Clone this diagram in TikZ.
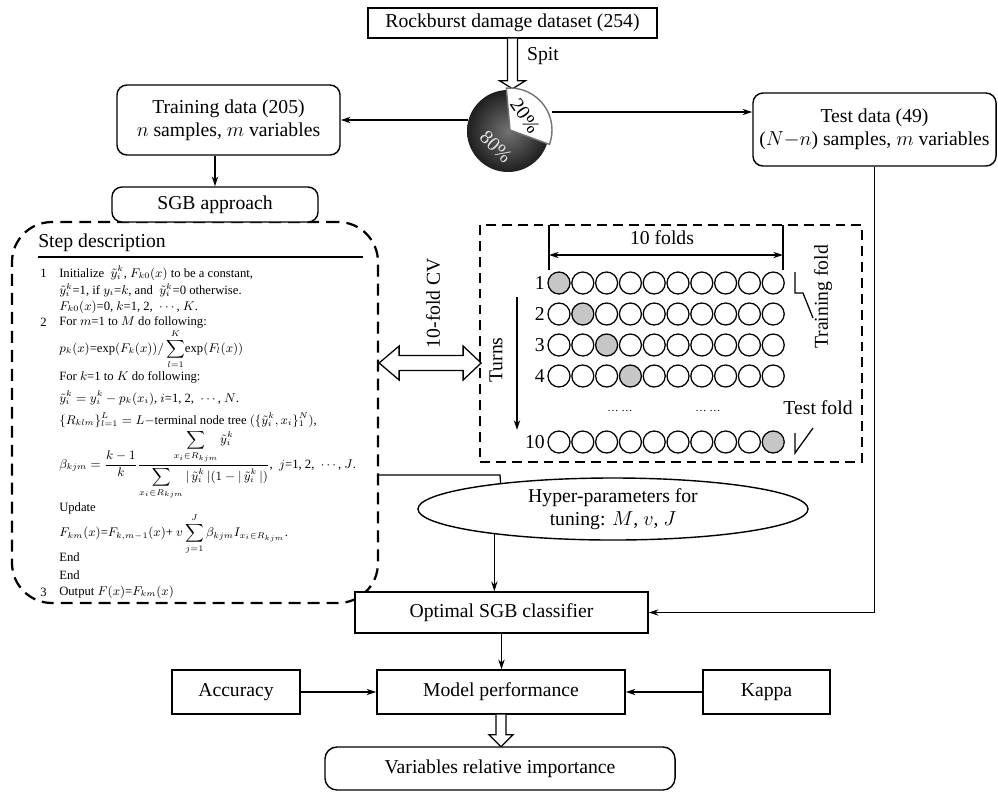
\documentclass[tikz,border=0pt]{standalone}
\usepackage{amsmath,amssymb}
\usepackage{fontspec}
\setmainfont{Liberation Serif}
\usepackage{tikz}
\usetikzlibrary{arrows.meta,fit,shapes.geometric}

\begin{document}
\begin{tikzpicture}[x=0.025cm,y=-0.025cm,
	>={Stealth[length=7pt,width=4.5pt]},
	every node/.style={font=\fontsize{14}{16.5}\selectfont},
	box/.style={draw,line width=1pt,inner sep=0pt,align=center,fill=white},
	rbox/.style={box,rounded corners=0.25cm},
	line/.style={line width=0.9pt},
	hollow/.style={draw,line width=0.9pt,fill=white,line join=miter},
	steptext/.style={anchor=west,inner sep=0pt,font=\fontsize{9}{11}\selectfont}]
	\useasboundingbox (0,0) rectangle (998,798);
	
	\node[fit={(12,222)(378,603)},inner sep=0pt,draw,line width=1.6pt,
	   dash pattern=on 8.5pt off 5pt,rounded corners=1cm] (steps) {};
	\node[fit={(480,225)(862,462)},inner sep=0pt,draw,line width=1.1pt,
	   dash pattern=on 7pt off 4.3pt] (cv) {};
	
	\node[box,minimum width=7.225cm,minimum height=0.75cm] (data) at (512.5,23) {Rockburst damage dataset (254)};
	\node[rbox,minimum width=5.575cm,minimum height=1.75cm] (train) at (228.5,120) {Training data (205)\\$n$ samples, $m$ variables};
	\node[rbox,minimum width=6.075cm,minimum height=1.825cm] (test) at (874.5,129.5) {Test data (49)\\($N{-}n$) samples, $m$ variables};
	\node[rbox,minimum width=5.15cm,minimum height=0.875cm] (sgb) at (215,204.5) {SGB approach};
	
	\draw[hollow,shift={(data.south)}] (-5,0) -- (-5,42) -- (-13,42) -- (0,50) -- (13,42) -- (5,42) -- (5,0);
	\node (spit) at (543,56) {Spit};
	
	\coordinate (pie) at (508,131);
	\shade[inner color=black!55,outer color=black!88] (pie) circle (41);
	\draw[line width=1pt,draw=black!55,fill=white] (510,130) -- +(-95:42) arc (-95:20:42) -- cycle;
	\node[rotate=-55,inner sep=0pt] (p20) at (525,116) {20\%};
	\node[rotate=-45,inner sep=0pt,text=black!10] (p80) at (496,147) {80\%};
	\coordinate (pl) at (468,120);
	\coordinate (pr) at (552,112);
	\draw[->,line] (pl) -- (train.east);
	\draw[->,line] (pr) -- (pr -| test.west);
	\draw[->,line] (sgb.north |- train.south) -- (sgb.north);
	
	\node[anchor=west,inner sep=0pt] (head) at (38,243) {Step description};
	\draw[line] (38,257) -- (363,257);
	\node[steptext] (n1) at (40,273) {1};
	\node[steptext] (n2) at (40,322) {2};
	\node[steptext] (n3) at (40,592) {3};
	\node[steptext] (s1) at (59,273) {Initialize~ $\tilde{y}_i^k$, $F_{k0}(x)$ to be a constant,};
	\node[steptext] (s2) at (59,290) {$\tilde{y}_i^k$=1, if $y_i$=$k$, and~ $\tilde{y}_i^k$=0 otherwise.};
	\node[steptext] (s3) at (59,307) {$F_{k0}(x)$=0, $k$=1, 2, ~$\cdots$, $K$.};
	\node[steptext] (s4) at (59,322) {For $m$=1 to $M$ do following:};
	\node[steptext] (s5) at (59,349) {$p_k(x)$=exp$(F_k(x))/\displaystyle\sum_{l=1}^{K}$exp$(F_l(x))$};
	\node[steptext] (s6) at (59,377) {For $k$=1 to $K$ do following:};
	\node[steptext] (s7) at (59,398) {$\tilde{y}_i^k=y_i^k-p_k(x_i)$, $i$=1, 2, ~$\cdots$, $N$.};
	\node[steptext] (s8) at (59,420) {$\{R_{klm}\}_{l=1}^{L}=L-$terminal node tree $(\{\tilde{y}_i^k,x_i\}_1^N)$,};
	\node[steptext] (s9) at (59,465) {$\beta_{kjm}=\dfrac{k-1}{k}\dfrac{\displaystyle\sum_{x_i\in R_{kjm}}\tilde{y}_i^k}{\displaystyle\sum_{x_i\in R_{kjm}}|\,\tilde{y}_i^k\,|(1-|\,\tilde{y}_i^k\,|)}$, ~$j$=1, 2, ~$\cdots$, $J$.};
	\node[steptext] (s10) at (59,508) {Update};
	\node[steptext] (s11) at (59,534) {$F_{km}(x)$=$F_{k,m-1}(x)$+ $v\displaystyle\sum_{j=1}^{J}\beta_{kjm}I_{x_i\in R_{kjm}}$.};
	\node[steptext] (s12) at (59,557) {End};
	\node[steptext] (s13) at (59,575) {End};
	\node[steptext] (s14) at (59,592) {Output $F(x)$=$F_{km}(x)$};
	
	\coordinate (cvy) at (0,363);
	\draw[hollow,shift={(steps.east |- cvy)}] (0,0) -- (20,-17) -- (20,-7.5) -- (84,-7.5) -- (84,-17) -- (102,0)
	   -- (84,17) -- (84,7.5) -- (20,7.5) -- (20,17) -- cycle;
	\node[rotate=90] (cvlab) at (433,303) {10-fold CV};
	
	\node (folds) at (662,238) {10 folds};
	\draw[<->,line] (549,255) -- (783,255);
	\draw[line] (549,225) -- (549,270) (783,225) -- (783,270);
	\foreach \rw/\y in {1/283,2/314,3/345,4/376,10/442}{
		\node[anchor=east,inner sep=0pt] (row\rw) at (545,\y) {\rw};
		\foreach \cl in {1,...,10}{
			\ifnum\cl=\rw \def\fc{gray!45}\else\def\fc{white}\fi
			\draw[line,fill=\fc] ({559+(\cl-1)*23.8},\y) circle (11);
		}
	}
	\node (dots1) at (620,411) {\fontsize{8}{8}\selectfont\ldots\ \ldots};
	\node (dots2) at (708,411) {\fontsize{8}{8}\selectfont\ldots\ \ldots};
	\node[rotate=90] (turns) at (496,360) {Turns};
	\draw[->,line] (517,297) -- (517,430);
	\node[rotate=90] (trfold) at (823,297) {Training fold};
	\draw[line] (795,272) -- (795,293) -- (803,293) -- (813,318);
	\node (tefold) at (818,408) {Test fold};
	\draw[line] (795,433) -- (795,453) -- (813,428);
	
	\node[draw,ellipse,line width=1pt,minimum width=9.75cm,minimum height=1.55cm,inner sep=0pt,align=center]
	   (hyper) at (613,509) {Hyper-parameters for\\tuning: $M$, $v$, $J$};
	\coordinate (jn) at (500,475);
	\draw[line] (steps.east |- jn) -- (jn) -- (hyper.167.5);
	
	\node[box,minimum width=7.325cm,minimum height=1.025cm] (opt) at (501.5,612.5) {Optimal SGB classifier};
	\draw[->,line] (hyper.192.5) -- (hyper.192.5 |- opt.north);
	\draw[->,line] (test.south) |- (opt.east);
	
	\node[box,minimum width=6.2cm,minimum height=1.1cm] (perf) at (501,692) {Model performance};
	\node[box,minimum width=3.2cm,minimum height=1.1cm] (acc) at (236,692) {Accuracy};
	\node[box,minimum width=3.175cm,minimum height=1.1cm] (kappa) at (766.5,692) {Kappa};
	\draw[->,line] (opt.south) -- (opt.south |- perf.north);
	\draw[->,line] (acc) -- (perf);
	\draw[->,line] (kappa) -- (perf);
	\draw[hollow,shift={(perf.south)}] (-5,0) -- (-5,20) -- (-12,20) -- (0,32) -- (12,20) -- (5,20) -- (5,0);
	\node[rbox,rounded corners=0.3cm,minimum width=8.75cm,minimum height=1.075cm] (imp) at (500,768.5) {Variables relative importance};
\end{tikzpicture}
\end{document}
